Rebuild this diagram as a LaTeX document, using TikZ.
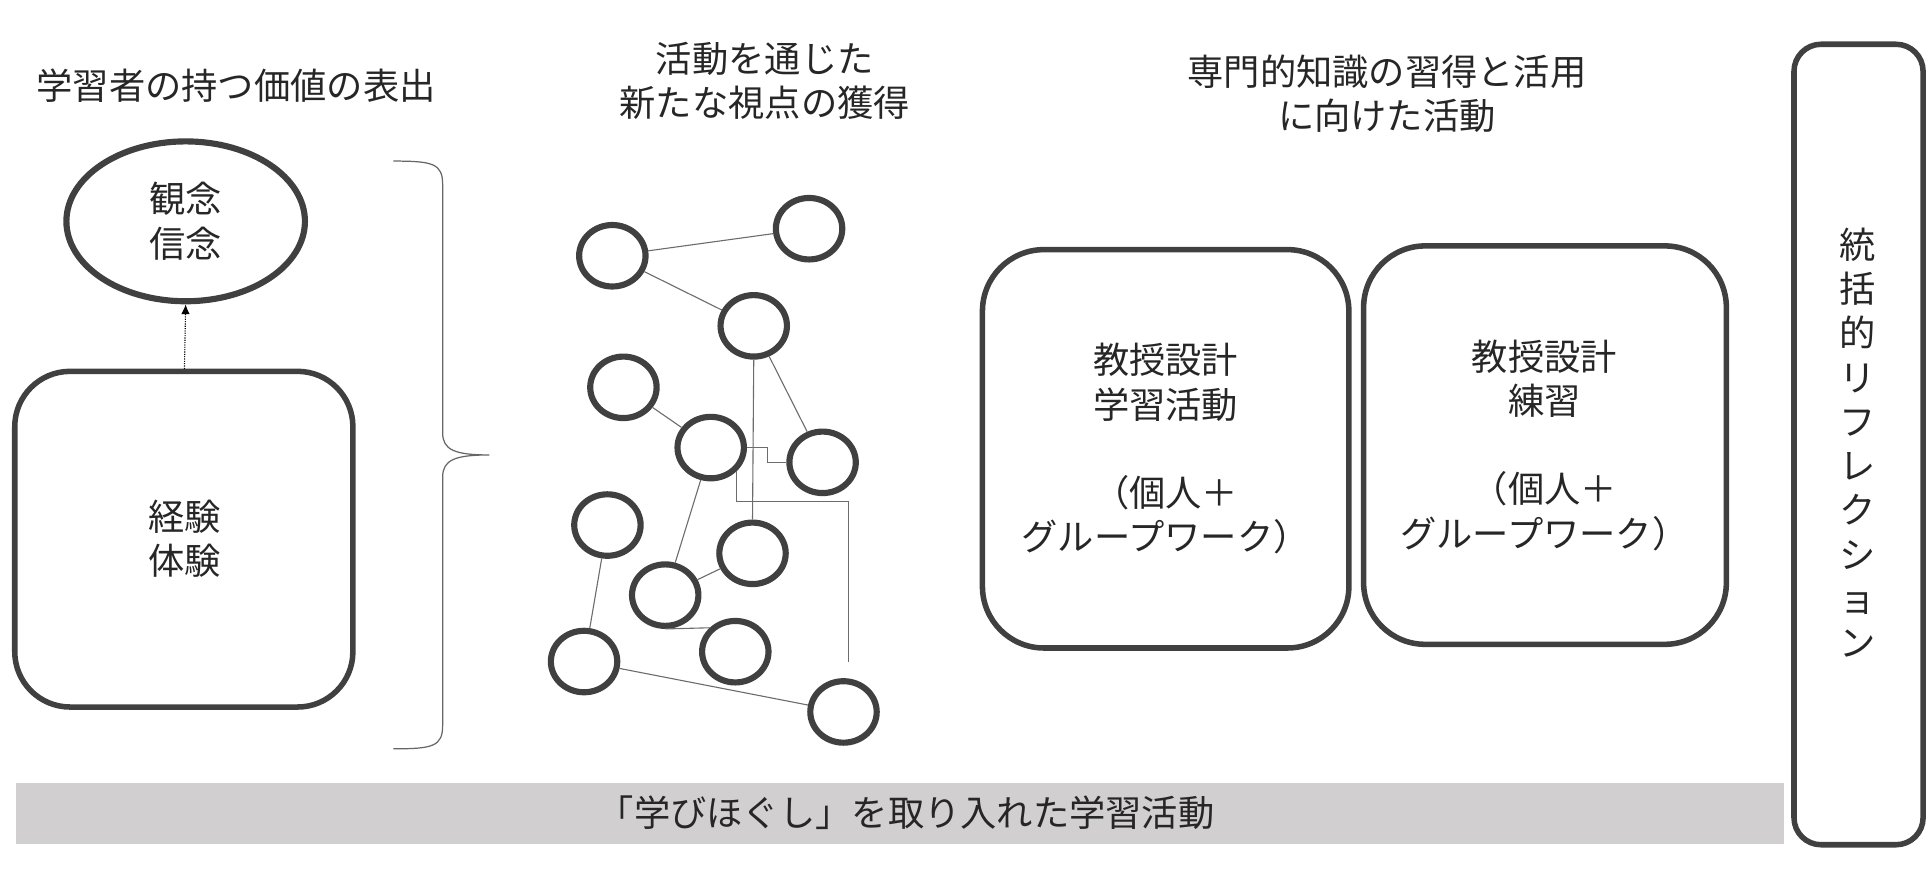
\documentclass[tikz,border=0pt]{standalone}
\usepackage{fontspec}
\setmainfont{Noto Sans CJK JP}
\usetikzlibrary{arrows.meta,shapes.geometric}
\definecolor{dk}{HTML}{404040}
\definecolor{bar}{HTML}{D1CFD0}
\begin{document}
\begin{tikzpicture}[x=1pt,y=-1pt,
 circ/.style={draw=dk,line width=5pt,ellipse,minimum width=54pt,minimum height=50pt},
 edge/.style={draw=gray!85!black,line width=0.9pt},
 bigbox/.style={draw=dk,line width=4.5pt,rounded corners=45pt},
 lbl/.style={font=\fontsize{29.5}{36}\selectfont,align=center,text=black!85}]
\useasboundingbox (0,0) rectangle (1568,720);
\node[lbl] (t1) at (192,70) {学習者の持つ価値の表出};
\node[lbl] (t2) at (622,66) {活動を通じた\\新たな視点の獲得};
\node[lbl] (t3) at (1128,76) {専門的知識の習得と活用\\に向けた活動};
% left
\draw[bigbox] (12,302) rectangle (287,575);
\node[lbl] (exp) at (150,438) {経験\\体験};
\node[draw=dk,line width=5pt,ellipse,minimum width=194pt,minimum height=130pt,lbl] (bel) at (151,180) {観念\\信念};
\coordinate (bt) at (150,300);
\draw[densely dotted,line width=0.9pt,-{Latex[length=8pt,width=7pt]}] (bt) -- (bel.south);
% brace
\draw[gray!80!black,line width=1pt] (320,131) .. controls (352,131) and (360,133) .. (360,150) -- (360,352) .. controls (360,366) and (370,370) .. (398,370) .. controls (370,370) and (360,374) .. (360,388) -- (360,590) .. controls (360,607) and (352,609) .. (320,609);
% network
\node[circ] (A) at (498,208) {};
\node[circ] (B) at (658,186) {};
\node[circ] (C) at (613,265) {};
\node[circ] (D) at (507,315) {};
\node[circ] (E) at (578,364) {};
\node[circ] (F) at (669,376) {};
\node[circ] (G) at (494,427) {};
\node[circ] (H) at (612,450) {};
\node[circ] (I) at (541,484) {};
\node[circ] (J) at (598,530) {};
\node[circ] (K) at (475,538) {};
\node[circ] (L) at (686,579) {};
\coordinate (fe) at (690,538);
\path[edge] (A) -- (B);
\path[edge] (A) -- (C);
\path[edge] (C) -- (F);
\path[edge] (C.south) -- (H.north);
\path[edge] (D) -- (E);
\path[edge] (E) -- (I);
\path[edge] (I) -- (H);
\path[edge] (I.south) -- (J.north west);
\path[edge] (G) -- (K);
\path[edge] (K) -- (L);
\path[edge] (E.east) -- (624,364) -- (624,376) -- (F.west);
\path[edge] (E.south east) |- (690,408) -- (fe);
% boxes
\draw[bigbox,rounded corners=50pt] (799,203) rectangle (1097,527);
\node[lbl] (b1) at (948,365) {教授設計\\学習活動\\[36pt]（個人＋\\グループワーク）};
\draw[bigbox,rounded corners=50pt] (1109,200) rectangle (1404,524);
\node[lbl] (b2) at (1256,362) {教授設計\\練習\\[36pt]（個人＋\\グループワーク）};
% right column
\draw[draw=dk,line width=4.5pt,rounded corners=22pt] (1459,36) rectangle (1564,687);
\node[lbl,align=center] (ref) at (1511,360) {統\\括\\的\\リ\\フ\\レ\\ク\\シ\\ョ\\ン};
% bar
\fill[bar] (13,637) rectangle (1451,686);
\node[lbl] (bt2) at (737,661) {「学びほぐし」を取り入れた学習活動};
\end{tikzpicture}
\end{document}
